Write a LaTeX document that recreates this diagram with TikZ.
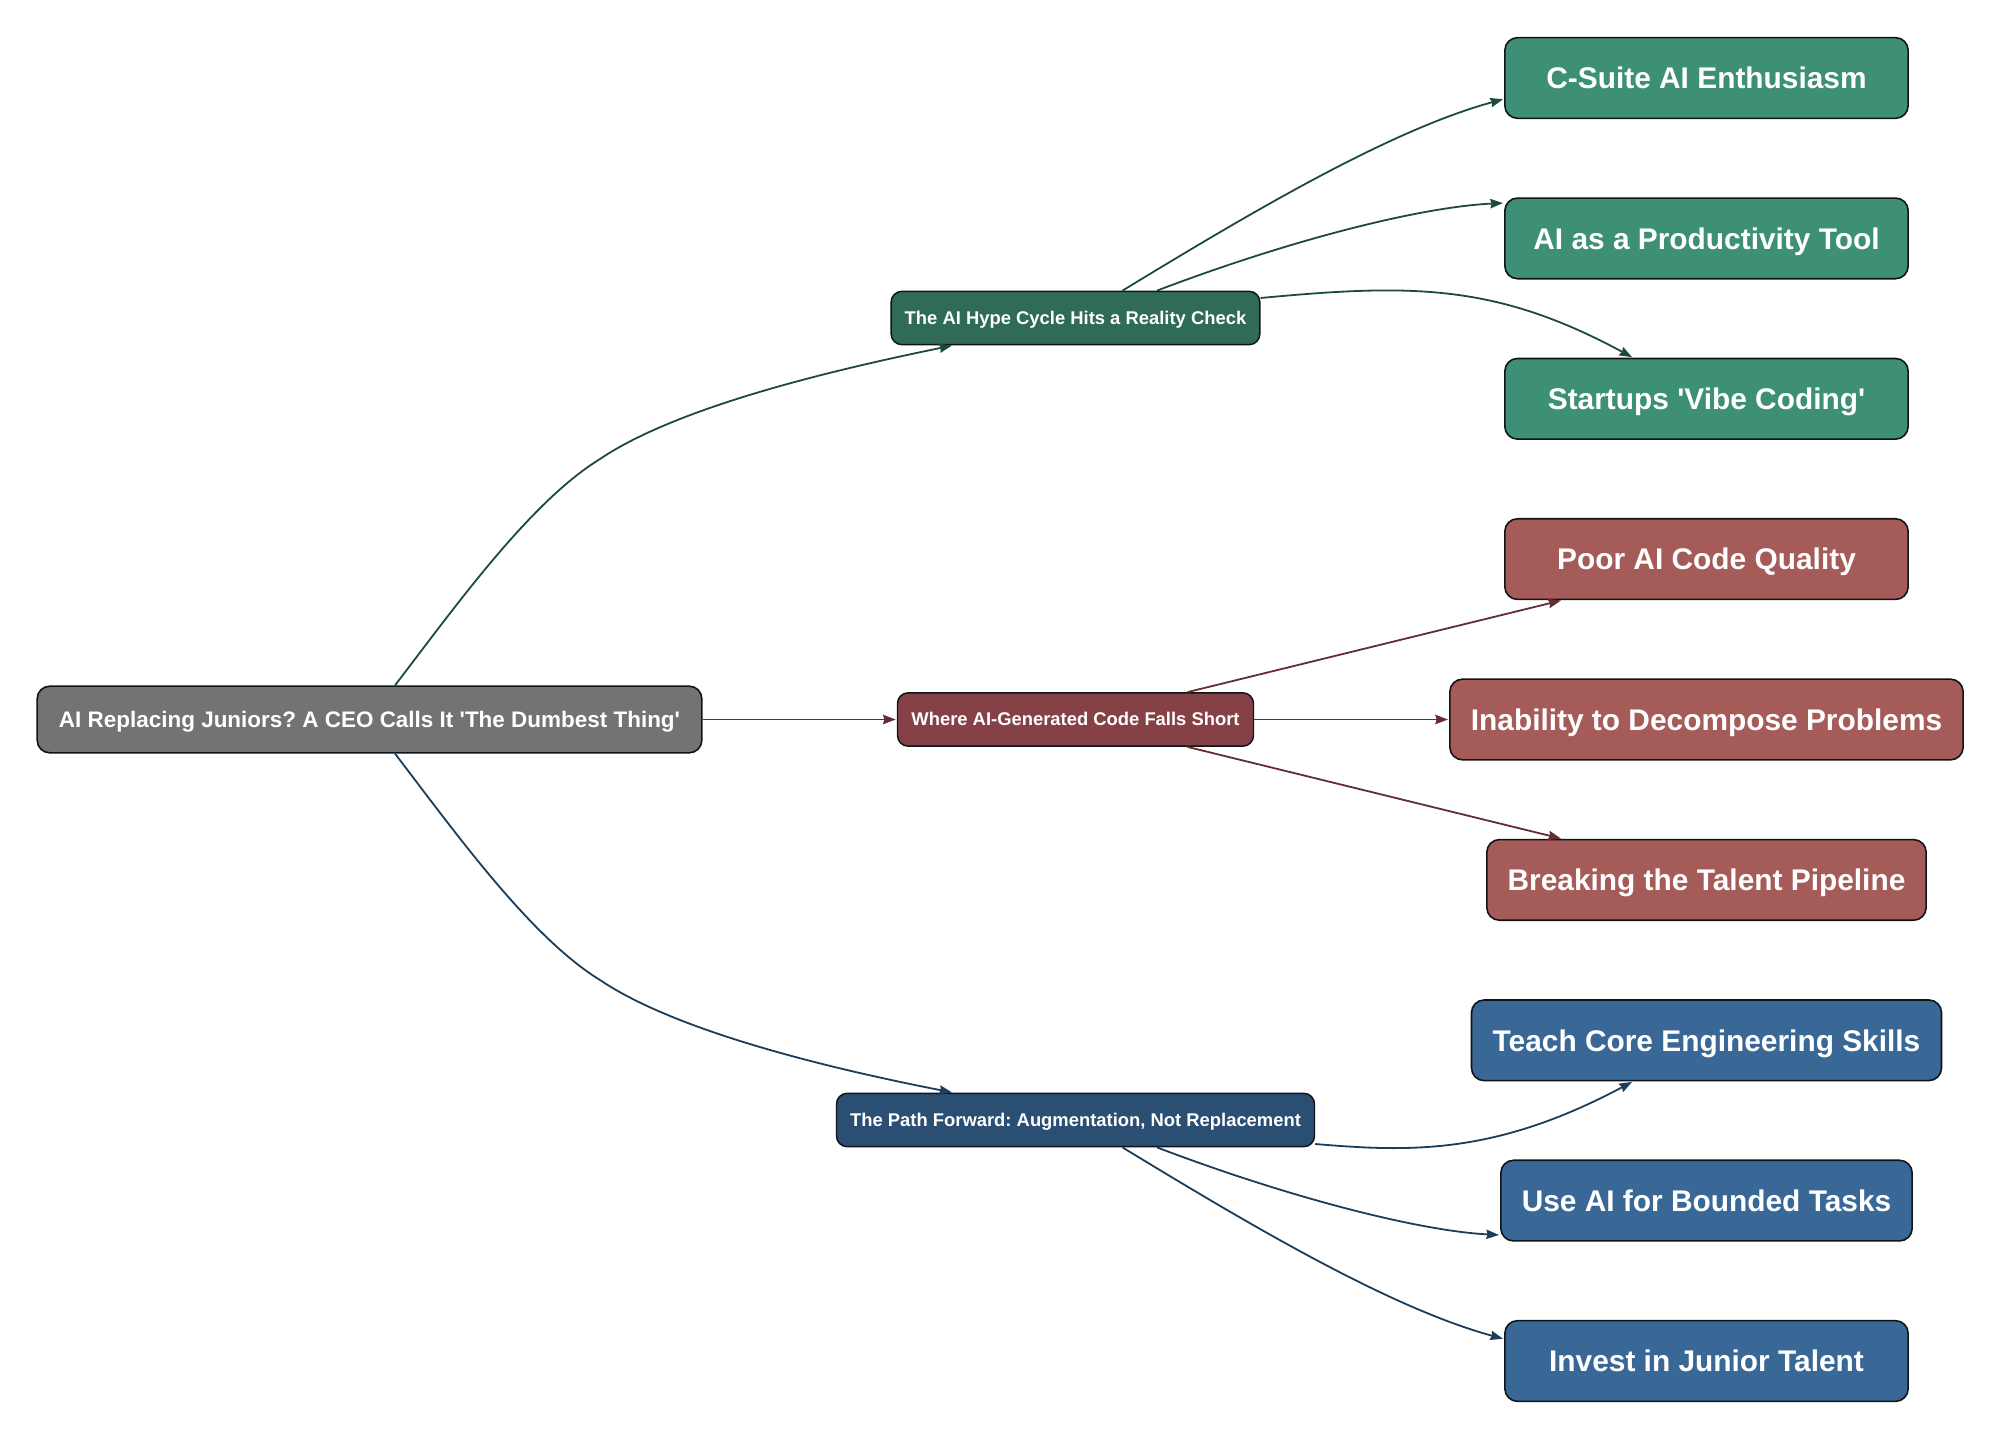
\documentclass[tikz,border=0pt]{standalone}
\usepackage{fontspec}
\newfontfamily\arialf{Liberation Sans}[Ligatures=NoCommon]
\usetikzlibrary{calc,arrows.meta}
\definecolor{rootfill}{HTML}{737373}
\definecolor{gmid}{HTML}{2F6B55}
\definecolor{gleaf}{HTML}{3D8F75}
\definecolor{gedge}{HTML}{1C4A3C}
\definecolor{rmid}{HTML}{864146}
\definecolor{rleaf}{HTML}{A55C59}
\definecolor{redge}{HTML}{642D30}
\definecolor{bmid}{HTML}{2A4F73}
\definecolor{bleaf}{HTML}{3A6896}
\definecolor{bedge}{HTML}{1A3D5A}
\definecolor{bord}{HTML}{101418}
\tikzset{
  box/.style={draw=bord,line width=1.2pt,rounded corners=9.5pt,inner sep=0pt,text=white,align=center},
  rootbox/.style={box,fill=rootfill,minimum width=498.5pt,minimum height=50pt,text height=15.2pt,text depth=3pt,font=\arialf\frenchspacing\fontsize{16.85}{20}\selectfont\bfseries},
  midbox/.style={box,minimum height=40pt,rounded corners=8pt,line width=1.1pt,text height=11.8pt,text depth=2.5pt,font=\arialf\frenchspacing\fontsize{13.8}{16}\selectfont\bfseries},
  leafbox/.style={box,minimum height=60.5pt,text height=20.2pt,text depth=4pt,font=\arialf\frenchspacing\fontsize{22.4}{26}\selectfont\bfseries},
  edge/.style={line width=1.35pt,-{Stealth[length=9.5pt,width=7pt,inset=1pt]},shorten >=0.8pt}
}
\begin{document}
\begin{tikzpicture}[x=0.75pt,y=-0.75pt]
\useasboundingbox (0,0) rectangle (2000,1438);
\node[rootbox] (root) at (369.5,719.5) {AI Replacing Juniors? A CEO Calls It 'The Dumbest Thing'};
\node[midbox,fill=gmid,minimum width=276.5pt] (g) at (1075.5,318) {The AI Hype Cycle Hits a Reality Check};
\node[midbox,fill=rmid,minimum width=267pt] (r) at (1075.5,719.5) {Where AI-Generated Code Falls Short};
\node[midbox,fill=bmid,minimum width=358.5pt] (b) at (1075.5,1120) {The Path Forward: Augmentation, Not Replacement};
\node[leafbox,fill=gleaf,minimum width=302.5pt] (g1) at (1706.5,78) {C-Suite AI Enthusiasm};
\node[leafbox,fill=gleaf,minimum width=302.5pt] (g2) at (1706.5,238.4) {AI as a Productivity Tool};
\node[leafbox,fill=gleaf,minimum width=302.5pt] (g3) at (1706.5,398.8) {Startups 'Vibe Coding'};
\node[leafbox,fill=rleaf,minimum width=302.5pt] (r1) at (1706.5,559.1) {Poor AI Code Quality};
\node[leafbox,fill=rleaf,minimum width=385pt] (r2) at (1706.5,719.5) {Inability to Decompose Problems};
\node[leafbox,fill=rleaf,minimum width=329.5pt] (r3) at (1706.5,879.9) {Breaking the Talent Pipeline};
\node[leafbox,fill=bleaf,minimum width=352.5pt] (b1) at (1706.5,1040.3) {Teach Core Engineering Skills};
\node[leafbox,fill=bleaf,minimum width=308.5pt] (b2) at (1706.5,1200.6) {Use AI for Bounded Tasks};
\node[leafbox,fill=bleaf,minimum width=302.5pt] (b3) at (1706.5,1361) {Invest in Junior Talent};
% root edges
\draw[edge,gedge] ($(root.north)+(25.5,0)$) .. controls (455,607) and (530,502) .. (600,459) .. controls (680,405) and (843,368) .. ($(g.south)+(-122.5,0)$);
\draw[edge,redge] (root.east) -- (r.west);
\draw[edge,bedge] ($(root.south)+(25.5,0)$) .. controls (455,832) and (530,937) .. (600,980) .. controls (680,1034) and (843,1071) .. ($(b.north)+(-122.5,0)$);
% green
\draw[edge,gedge] ($(g.north)+(47,0)$) .. controls (1250,213) and (1390,130) .. (g1.west |- 0,99);
\draw[edge,gedge] ($(g.north)+(81.5,0)$) .. controls (1290,240) and (1420,207) .. (g2.west |- 0,203);
\draw[edge,gedge] (g.east |- 0,298) .. controls (1410,284) and (1495,283) .. ($(g3.north)+(-73.5,0)$);
% red
\draw[edge,redge] ($(r.north)+(112,0)$) -- ($(r1.south)+(-144.5,0)$);
\draw[edge,redge] (r.east) -- (r2.west);
\draw[edge,redge] ($(r.south)+(112,0)$) -- ($(r3.north)+(-144.5,0)$);
% blue
\draw[edge,bedge] (b.east |- 0,1144) .. controls (1410,1152) and (1495,1155) .. ($(b1.south)+(-73.5,0)$);
\draw[edge,bedge] ($(b.south)+(81.5,0)$) .. controls (1290,1198) and (1420,1231) .. (b2.west |- 0,1235);
\draw[edge,bedge] ($(b.south)+(47,0)$) .. controls (1250,1225) and (1390,1308) .. (b3.west |- 0,1339);
\end{tikzpicture}
\end{document}
